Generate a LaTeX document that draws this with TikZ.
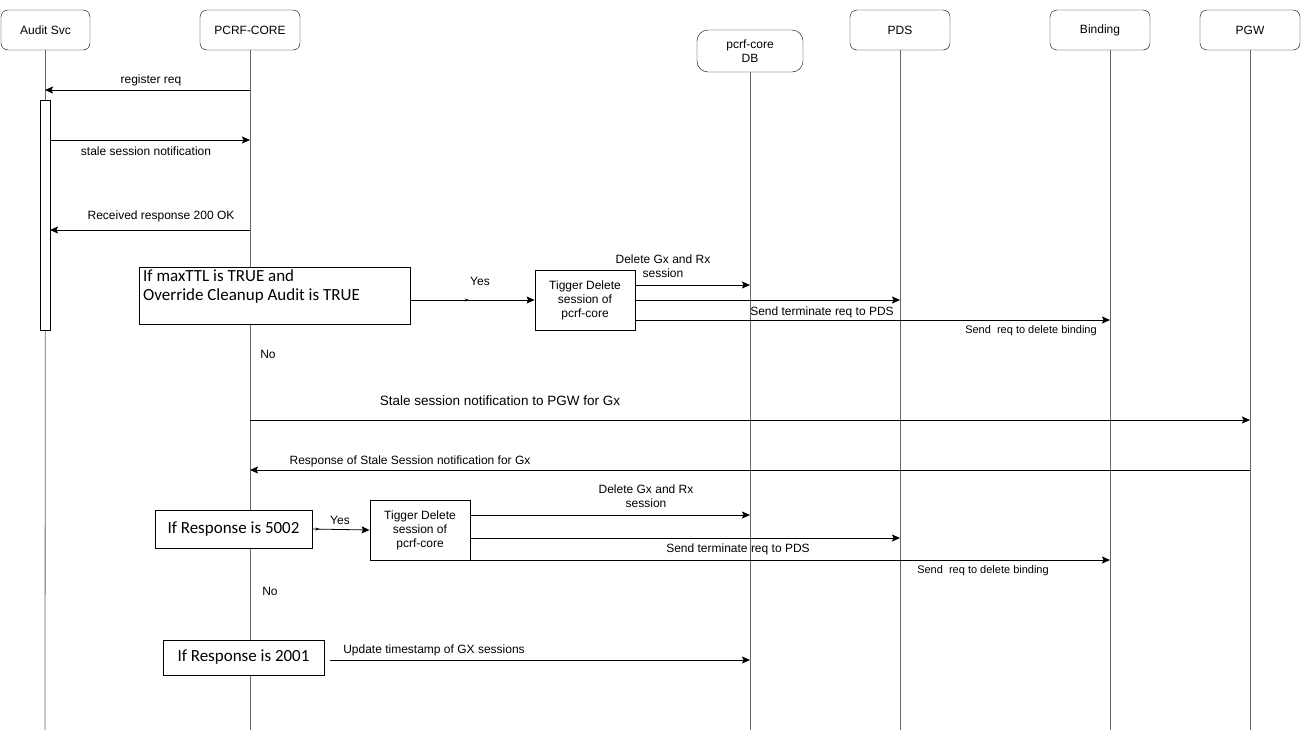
\documentclass[tikz,border=0pt]{standalone}
\usepackage{fontspec}
\setmainfont{Liberation Sans}
\newfontfamily\calfont{Carlito}
\usetikzlibrary{arrows.meta,decorations.markings}
\begin{document}
\begin{tikzpicture}[x=1pt,y=-1pt,
  hdr/.style={draw, rounded corners=7pt, minimum width=100pt, minimum height=40pt, inner sep=0pt, font=\fontsize{12}{14}\selectfont},
  life/.style={draw=black!60, line width=0.8pt},
  msg/.style={draw=black, line width=0.8pt, -{Stealth[length=8pt,width=7pt,inset=1.5pt]}},
  lbl/.style={font=\fontsize{12}{14}\selectfont, inner sep=0pt, align=center},
  sml/.style={font=\fontsize{11}{13}\selectfont, inner sep=0pt},
  cond/.style={draw, fill=white, line width=0.8pt, inner sep=0pt, font=\calfont\fontsize{17}{20}\selectfont},
  act/.style={draw, fill=white, line width=0.8pt, minimum width=100pt, minimum height=60pt, inner sep=0pt, align=center, font=\fontsize{12}{14}\selectfont},
  midtip/.style={postaction={decorate}, decoration={markings, mark=at position #1 with {\arrow{Stealth[length=4pt,width=3pt]}}}}
]
\useasboundingbox (0,0) rectangle (1301,734);

% headers
\node[hdr, minimum width=89pt] (audit) at (45.5,30) {Audit Svc};
\node[hdr] (pcrf) at (250,30) {PCRF-CORE};
\node[hdr, minimum width=106pt, minimum height=42pt, rounded corners=11pt, align=center] (db) at (750,51) {pcrf-core\\DB};
\node[hdr] (pds) at (900,30) {PDS};
\node[hdr] (bind) at (1100,30) {Binding};
\node[hdr] (pgw) at (1250,30) {PGW};

% lifeline ends
\coordinate (auditEnd) at (45,730);
\coordinate (pcrfEnd) at (250,730);
\coordinate (dbEnd) at (750,730);
\coordinate (pdsEnd) at (900,730);
\coordinate (bindTop) at (1110,50);
\coordinate (bindEnd) at (1110,730);
\coordinate (pgwEnd) at (1250,730);

\draw[life] (audit.south) -- (auditEnd);
\draw[life] (pcrf.south) -- (pcrfEnd);
\draw[life] (db.south) -- (dbEnd);
\draw[life] (pds.south) -- (pdsEnd);
\draw[life] (bindTop) -- (bindEnd);
\draw[life] (pgw.south) -- (pgwEnd);

% activation bar
\node[draw, fill=white, line width=0.8pt, minimum width=10pt, minimum height=230pt, inner sep=0pt] (actbar) at (45,215) {};

% register / notification
\coordinate (p90) at (250,90);   \coordinate (a90) at (45,90);
\coordinate (a140) at (50,140);  \coordinate (p140) at (250,140);
\coordinate (p230) at (250,230); \coordinate (a230) at (50,230);
\draw[msg] (p90) -- (a90);
\node[lbl] (l1) at (151,80) {register req};
\draw[msg] (a140) -- (p140);
\node[lbl] (l2) at (146,151) {stale session notification};
\draw[msg] (p230) -- (a230);
\node[lbl] (l3) at (161,216) {Received response 200 OK};

% first condition
\node[cond, minimum width=271pt, minimum height=57pt] (c1) at (274.5,295.5) {};
\node[anchor=north west, inner sep=0pt, align=left, font=\calfont\fontsize{17}{19}\selectfont] (c1t) at (143,269) {If maxTTL is TRUE and\\Override Cleanup Audit is TRUE};
\node[act] (t1) at (585,300) {Tigger Delete\\session of\\pcrf-core};
\draw[msg, midtip=0.47] (c1.east |- t1.west) -- (t1.west);
\node[lbl] (y1) at (480,281) {Yes};

\coordinate (t1a) at (635,285); \coordinate (d285) at (750,285);
\coordinate (t1b) at (635,300); \coordinate (s300) at (900,300);
\coordinate (t1c) at (635,320); \coordinate (b320) at (1110,320);
\draw[msg] (t1a) -- (d285);
\draw[msg] (t1b) -- (s300);
\draw[msg] (t1c) -- (b320);
\node[lbl] (l4) at (663,266) {Delete Gx and Rx\\session};
\node[lbl] (l5) at (822,312) {Send terminate req to PDS};
\node[sml] (l6) at (1031,331) {Send\ \ req to delete binding};
\node[lbl] (no1) at (268,354) {No};

% PGW messages
\coordinate (p420) at (250,420); \coordinate (g420) at (1250,420);
\coordinate (g470) at (1250,470); \coordinate (p470) at (250,470);
\draw[msg] (p420) -- (g420);
\node[lbl, font=\fontsize{13.5}{15}\selectfont] (l7) at (500,401) {Stale session notification to PGW for Gx};
\draw[msg] (g470) -- (p470);
\node[lbl] (l8) at (410,461) {Response of Stale Session notification for Gx};

% second condition
\node[cond, minimum width=157pt, minimum height=38pt] (c2) at (233.5,529) {If Response is 5002};
\node[act] (t2) at (420,530) {Tigger Delete\\session of\\pcrf-core};
\draw[msg, midtip=0.12] (c2.east) -- (t2.west);
\node[lbl] (y2) at (340,520) {Yes};

\coordinate (t2a) at (470,515); \coordinate (d515) at (750,515);
\coordinate (t2b) at (470,538); \coordinate (s538) at (900,538);
\coordinate (t2c) at (470,560); \coordinate (b560) at (1110,560);
\draw[msg] (t2a) -- (d515);
\draw[msg] (t2b) -- (s538);
\draw[msg] (t2c) -- (b560);
\node[lbl] (l9) at (646,496) {Delete Gx and Rx\\session};
\node[lbl] (l10) at (738,549) {Send terminate req to PDS};
\node[sml] (l11) at (983,571) {Send\ \ req to delete binding};
\node[lbl] (no2) at (270,591) {No};

% third condition
\node[cond, minimum width=161pt, minimum height=35pt] (c3) at (243.5,657.5) {If Response is 2001};
\coordinate (c3r) at (330,660); \coordinate (d660) at (750,660);
\draw[msg] (c3r) -- (d660);
\node[lbl] (l12) at (434,650) {Update timestamp of GX sessions};
\end{tikzpicture}
\end{document}
